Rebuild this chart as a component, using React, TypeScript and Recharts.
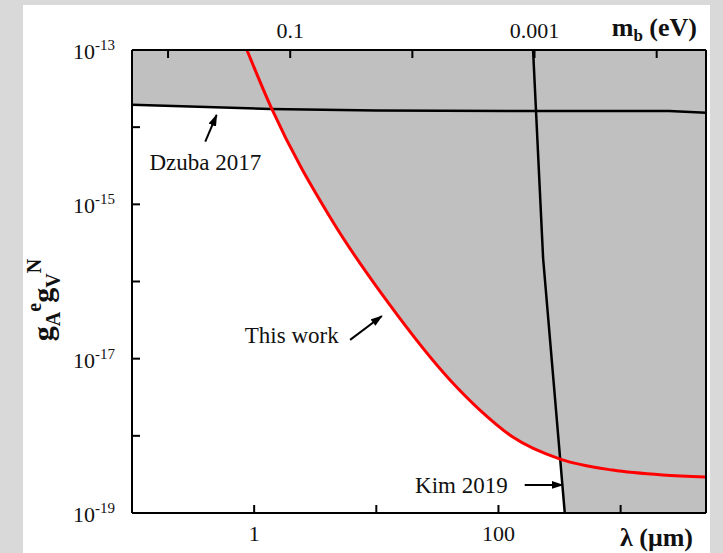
import React from 'react';
import { ComposedChart, Area, Line, XAxis, YAxis, ReferenceLine, ReferenceDot } from 'recharts';

// physical constant hbar*c in eV·μm, used to place the top mass axis
const HBARC = 0.1973;
const X_DOMAIN: [number, number] = [0.1, 5000];
const Y_DOMAIN: [number, number] = [1e-19, 1e-13];

// tick values / labels
const lambdaTicks = [1, 10, 100, 1000];
const lambdaLabels = ['1', '', '100', ''];
const massTicks = [1, 0.1, 0.01, 0.001, 0.0001];
const massLabels = ['', '0.1', '', '0.001', ''];
const gTicks = [1e-19, 1e-18, 1e-17, 1e-16, 1e-15, 1e-14, 1e-13];
const gTickExps = ['-19', '', '-17', '', '-15', '', '-13'];

// "This work" (red curve)
const thisWorkLambda = [0.872, 1.395, 4.32, 12.9, 40.1, 70.5, 131, 320, 861, 2208, 5000];
const thisWorkG = [1e-13, 1.72e-14, 6.27e-16, 4.97e-17, 5.3e-18, 2.16e-18, 9.66e-19, 5.0e-19, 3.6e-19, 3.11e-19, 2.93e-19];

// Dzuba 2017
const dzubaLambda = [0.1, 1.35, 10, 200, 2500, 5000];
const dzubaG = [1.95e-14, 1.72e-14, 1.64e-14, 1.62e-14, 1.62e-14, 1.54e-14];

// Kim 2019
const kimLambda = [192, 232, 320, 349];
const kimG = [1e-13, 2.0e-16, 5.0e-19, 1e-19];

// annotations
const annotationText = ['Dzuba 2017', 'This work', 'Kim 2019'];
const annotationX = [0.398, 2.03, 49.7];
const annotationY = [2.79e-15, 1.6e-17, 1.82e-19];
const arrowFromX = [0.398, 6.1, 164];
const arrowFromY = [6.49e-15, 1.75e-17, 2.31e-19];
const arrowToX = [0.493, 11.1, 336];
const arrowToY = [1.44e-14, 3.57e-17, 2.31e-19];

const FONT = '"Liberation Serif", "Times New Roman", serif';
const TXT = '#111';
const FILL = '#c0c0c0';

const sameLog = (a: number, b: number) => Math.abs(Math.log10(a) - Math.log10(b)) < 1e-6;

function BottomTick(props: any) {
  const { x, y, payload } = props;
  const i = lambdaTicks.findIndex((t) => sameLog(t, payload.value));
  const label = i >= 0 ? lambdaLabels[i] : '';
  return (
    <g>
      <line x1={x} x2={x} y1={y} y2={y - 8} stroke="#000" strokeWidth={2} />
      {label ? (
        <text x={x} y={y + 28} textAnchor="middle" fontSize={22} fontFamily={FONT} fill={TXT}>
          {label}
        </text>
      ) : null}
    </g>
  );
}

const topTickValues = massTicks.map((m) => HBARC / m);

function TopTick(props: any) {
  const { x, y, payload } = props;
  const i = topTickValues.findIndex((t) => sameLog(t, payload.value));
  const label = i >= 0 ? massLabels[i] : '';
  return (
    <g>
      <line x1={x} x2={x} y1={y} y2={y + 8} stroke="#000" strokeWidth={2} />
      {label ? (
        <text x={x} y={y - 12} textAnchor="middle" fontSize={22} fontFamily={FONT} fill={TXT}>
          {label}
        </text>
      ) : null}
    </g>
  );
}

function LeftTick(props: any) {
  const { x, y, payload } = props;
  const i = gTicks.findIndex((t) => sameLog(t, payload.value));
  const exp = i >= 0 ? gTickExps[i] : '';
  return (
    <g>
      <line x1={x} x2={x + 8} y1={y} y2={y} stroke="#000" strokeWidth={2} />
      {exp ? (
        <text x={x - 17} y={y + 9} textAnchor="end" fontFamily={FONT} fill={TXT}>
          <tspan fontSize={22}>10</tspan>
          <tspan fontSize={15} dy={-9}>{exp}</tspan>
        </text>
      ) : null}
    </g>
  );
}

function YTitle(p: any) {
  const vb = p.viewBox || { x: 109, y: 45 };
  const cx = vb.x + (vb.width || 0) - 79;
  const cy = vb.y + 250;
  return (
    <text
      x={cx}
      y={cy}
      transform={`rotate(-90, ${cx}, ${cy})`}
      textAnchor="middle"
      fontFamily={FONT}
      fontWeight="bold"
      fill={TXT}
    >
      <tspan fontSize={30}>g</tspan>
      <tspan fontSize={20} dy={7}>A</tspan>
      <tspan fontSize={20} dy={-19}>e</tspan>
      <tspan fontSize={30} dy={12}>g</tspan>
      <tspan fontSize={20} dy={7}>V</tspan>
      <tspan fontSize={20} dy={-19}>N</tspan>
    </text>
  );
}

function TopTitle(p: any) {
  const vb = p.viewBox || { x: 109, y: 44, width: 574, height: 1 };
  const x = vb.x + vb.width - 9;
  const y = vb.y + (vb.height || 0) - 14;
  return (
    <text x={x} y={y} textAnchor="end" fontFamily={FONT} fontWeight="bold" fill={TXT}>
      <tspan fontSize={26}>m</tspan>
      <tspan fontSize={17} dy={5}>b</tspan>
      <tspan fontSize={26} dy={-5}> (eV)</tspan>
    </text>
  );
}

function BottomTitle(p: any) {
  const vb = p.viewBox || { x: 109, y: 508, width: 574 };
  const x = vb.x + vb.width - 13;
  const y = vb.y + 33;
  return (
    <text x={x} y={y} textAnchor="end" fontSize={26} fontFamily={FONT} fontWeight="bold" fill={TXT}>
      λ (μm)
    </text>
  );
}

export default function App() {
  const redData = thisWorkLambda.map((x, i) => ({ x, g: thisWorkG[i], range: [thisWorkG[i], Y_DOMAIN[1]] }));
  const dzubaData = dzubaLambda.map((x, i) => ({ x, g: dzubaG[i], range: [dzubaG[i], Y_DOMAIN[1]] }));
  const kimData = kimLambda.map((x, i) => ({ x, g: kimG[i], range: [kimG[i], Y_DOMAIN[1]] }));
  const kimFill = [...kimData, { x: X_DOMAIN[1], g: Y_DOMAIN[0], range: [Y_DOMAIN[0], Y_DOMAIN[1]] }];

  return (
    <div style={{ position: 'absolute', left: 0, top: 0, width: 723, height: 553, background: '#d9d9d9', overflow: 'hidden' }}>
      <svg width={0} height={0} style={{ position: 'absolute' }}>
        <defs>
          <marker
            id="arrowHead"
            viewBox="0 0 12 8"
            refX={11}
            refY={4}
            markerWidth={12}
            markerHeight={8}
            markerUnits="userSpaceOnUse"
            orient="auto"
          >
            <path d="M0,0 L12,4 L0,8 Z" fill="#000" />
          </marker>
        </defs>
      </svg>
      <div style={{ position: 'absolute', left: 23, top: 5, width: 687, height: 548, background: '#fff' }}>
        <ComposedChart width={687} height={548} margin={{ top: 44, right: 3, bottom: 39, left: 108 }}>
          <Area
            data={dzubaData}
            dataKey="range"
            xAxisId="b"
            yAxisId="l"
            type="linear"
            fill={FILL}
            fillOpacity={1}
            stroke="none"
            isAnimationActive={false}
          />
          <Area
            data={redData}
            dataKey="range"
            xAxisId="b"
            yAxisId="l"
            type="monotone"
            fill={FILL}
            fillOpacity={1}
            stroke="none"
            isAnimationActive={false}
          />
          <Area
            data={kimFill}
            dataKey="range"
            xAxisId="b"
            yAxisId="l"
            type="linear"
            fill={FILL}
            fillOpacity={1}
            stroke="none"
            isAnimationActive={false}
          />
          <Line
            data={dzubaData}
            dataKey="g"
            xAxisId="b"
            yAxisId="l"
            type="linear"
            stroke="#000"
            strokeWidth={2.5}
            dot={false}
            isAnimationActive={false}
          />
          <Line
            data={kimData}
            dataKey="g"
            xAxisId="b"
            yAxisId="l"
            type="linear"
            stroke="#000"
            strokeWidth={2.5}
            dot={false}
            isAnimationActive={false}
          />
          <Line
            data={redData}
            dataKey="g"
            xAxisId="b"
            yAxisId="l"
            type="monotone"
            stroke="#ff0000"
            strokeWidth={3}
            dot={false}
            isAnimationActive={false}
          />
          {annotationText.map((t, i) => (
            <ReferenceLine
              key={'arr' + i}
              xAxisId="b"
              yAxisId="l"
              segment={[
                { x: arrowFromX[i], y: arrowFromY[i] },
                { x: arrowToX[i], y: arrowToY[i] },
              ]}
              stroke="#000"
              strokeWidth={2}
              markerEnd="url(#arrowHead)"
            />
          ))}
          {annotationText.map((t, i) => (
            <ReferenceDot
              key={'txt' + i}
              xAxisId="b"
              yAxisId="l"
              x={annotationX[i]}
              y={annotationY[i]}
              r={0}
              shape={(p: any) => (
                <text x={p.cx} y={p.cy} textAnchor="middle" fontSize={23} fontFamily={FONT} fill={TXT}>
                  {t}
                </text>
              )}
            />
          ))}
          <XAxis
            xAxisId="b"
            orientation="bottom"
            type="number"
            dataKey="x"
            scale="log"
            domain={X_DOMAIN}
            allowDataOverflow
            ticks={lambdaTicks}
            interval={0}
            height={1}
            tickSize={0}
            tickMargin={0}
            tickLine={false}
            axisLine={{ stroke: '#000', strokeWidth: 2 }}
            tick={(p: any) => <BottomTick {...p} />}
            label={(p: any) => <BottomTitle {...p} />}
          />
          <XAxis
            xAxisId="t"
            orientation="top"
            type="number"
            dataKey="x"
            scale="log"
            domain={X_DOMAIN}
            allowDataOverflow
            ticks={topTickValues}
            interval={0}
            height={1}
            tickSize={0}
            tickMargin={0}
            tickLine={false}
            axisLine={{ stroke: '#000', strokeWidth: 2 }}
            tick={(p: any) => <TopTick {...p} />}
            label={(p: any) => <TopTitle {...p} />}
          />
          <YAxis
            yAxisId="l"
            orientation="left"
            type="number"
            scale="log"
            domain={Y_DOMAIN}
            allowDataOverflow
            ticks={gTicks}
            interval={0}
            width={1}
            tickSize={0}
            tickMargin={0}
            tickLine={false}
            axisLine={{ stroke: '#000', strokeWidth: 2 }}
            tick={(p: any) => <LeftTick {...p} />}
            label={(p: any) => <YTitle {...p} />}
          />
          <YAxis
            yAxisId="r"
            orientation="right"
            type="number"
            scale="log"
            domain={Y_DOMAIN}
            allowDataOverflow
            width={1}
            tick={false}
            tickLine={false}
            axisLine={{ stroke: '#000', strokeWidth: 2 }}
          />
        </ComposedChart>
      </div>
    </div>
  );
}
